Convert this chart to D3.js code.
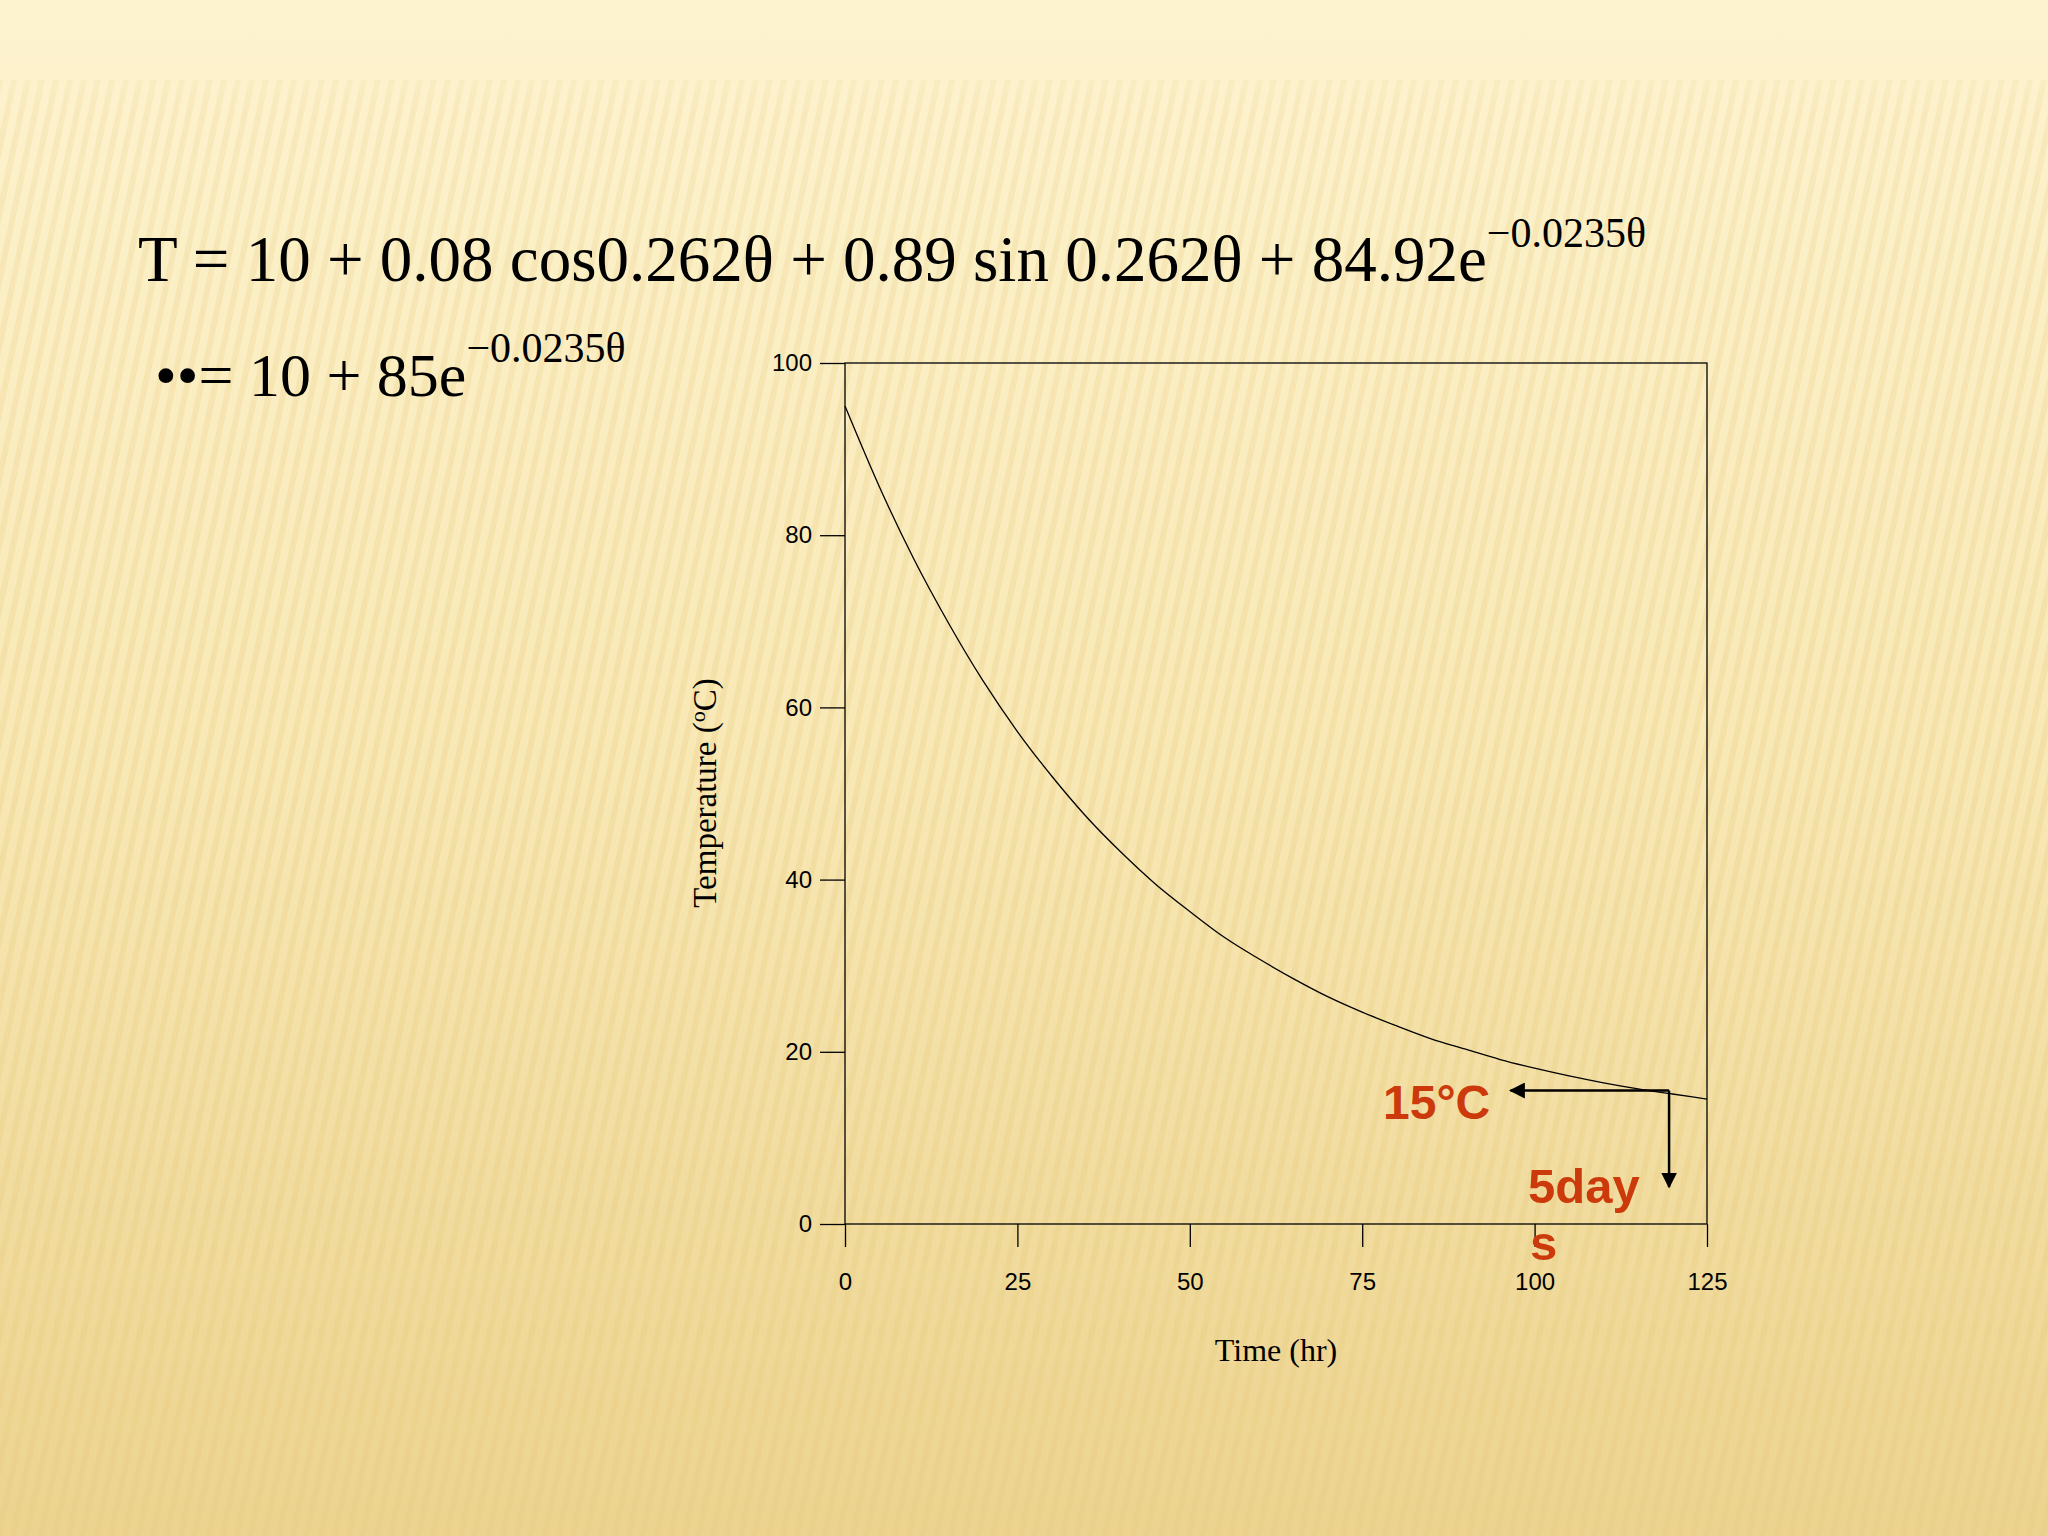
<!DOCTYPE html><html><head><meta charset="utf-8">
<script src="https://cdn.jsdelivr.net/npm/d3@7"></script>
<style>body{margin:0;}svg{display:block}</style></head><body>
<svg id="c" width="2048" height="1536"></svg>
<script>
const timeHr = [0,5,10,15,20,25,30,35,40,45,50,55,60,65,70,75,80,85,90,95,100,105,110,115,120,125];
const tempC  = [95,85.6,77.2,69.8,63.1,57.2,52.0,47.3,43.2,39.5,36.3,33.3,30.8,28.5,26.4,24.6,23.0,21.5,20.3,19.1,18.1,17.2,16.4,15.7,15.1,14.5];
const xTicks = [0,25,50,75,100,125];
const yTicks = [0,20,40,60,80,100];
const arrowStart = [119.5,15.5], arrowLeftEnd = [96.5,15.5], arrowDownEnd = [119.5,4.3];

const svg = d3.select("#c");
const defs = svg.append("defs");
const g1 = defs.append("linearGradient").attr("id","bg").attr("x1",0).attr("y1",0).attr("x2",0).attr("y2",1);
g1.append("stop").attr("offset","0").attr("stop-color","#fdf3cf");
g1.append("stop").attr("offset","0.5").attr("stop-color","#f8e8b4");
g1.append("stop").attr("offset","1").attr("stop-color","#ecd38f");
svg.append("rect").attr("width",2048).attr("height",1536).attr("fill","url(#bg)");
const pat = defs.append("pattern").attr("id","st").attr("width",14).attr("height",40).attr("patternUnits","userSpaceOnUse").attr("patternTransform","skewX(-12)");
pat.append("rect").attr("width",6).attr("height",40).attr("fill","#e6cc80").attr("opacity",0.35);
const mg = defs.append("linearGradient").attr("id","mg").attr("x1",0).attr("y1",0).attr("x2",0).attr("y2",1);
mg.append("stop").attr("offset","0").attr("stop-color","#fff").attr("stop-opacity",0);
mg.append("stop").attr("offset","0.08").attr("stop-color","#fff").attr("stop-opacity",0.6);
mg.append("stop").attr("offset","1").attr("stop-color","#fff").attr("stop-opacity",1);
defs.append("mask").attr("id","m").append("rect").attr("width",2048).attr("height",1536).attr("fill","url(#mg)");
svg.append("rect").attr("y",80).attr("width",2048).attr("height",1456).attr("fill","url(#st)").attr("mask","url(#m)");

const x = d3.scaleLinear().domain([0,125]).range([845,1707]);
const y = d3.scaleLinear().domain([0,100]).range([1224,363]);

svg.append("rect").attr("x",845).attr("y",363).attr("width",862).attr("height",861).attr("fill","none").attr("stroke","#000").attr("stroke-width",1.3);
const xa = svg.append("g").attr("transform","translate(0,1224)").call(d3.axisBottom(x).tickValues(xTicks).tickSize(23).tickPadding(26));
const ya = svg.append("g").attr("transform","translate(845,0)").call(d3.axisLeft(y).tickValues(yTicks).tickSize(25).tickPadding(8));
[xa,ya].forEach(a=>{a.selectAll("text").attr("font-family","Liberation Sans, Arial").attr("font-size",24).attr("fill","#000");
 a.selectAll("line,path").attr("stroke","#000").attr("stroke-width",1.3);a.select(".domain").attr("d",null);});

svg.append("path").datum(timeHr.map((t,i)=>[t,tempC[i]])).attr("fill","none").attr("stroke","#000").attr("stroke-width",1.3)
  .attr("d",d3.line().x(d=>x(d[0])).y(d=>y(d[1])).curve(d3.curveMonotoneX));

defs.append("marker").attr("id","ah").attr("viewBox","0 0 10 10").attr("refX",9).attr("refY",5).attr("markerWidth",16).attr("markerHeight",16).attr("orient","auto").attr("markerUnits","userSpaceOnUse")
 .append("path").attr("d","M0,0L10,5L0,10z").attr("fill","#000");
svg.append("line").attr("x1",x(arrowStart[0])).attr("y1",y(arrowStart[1])).attr("x2",x(arrowLeftEnd[0])).attr("y2",y(arrowLeftEnd[1])).attr("stroke","#000").attr("stroke-width",2.5).attr("marker-end","url(#ah)");
svg.append("line").attr("x1",x(arrowStart[0])).attr("y1",y(arrowStart[1])).attr("x2",x(arrowDownEnd[0])).attr("y2",y(arrowDownEnd[1])).attr("stroke","#000").attr("stroke-width",2.5).attr("marker-end","url(#ah)");

const red="#cc3a0c";
svg.append("text").attr("x",1383).attr("y",1119).attr("font-family","Liberation Sans, Arial").attr("font-weight","bold").attr("font-size",48).attr("fill",red).text("15°C");
svg.append("text").attr("x",1528).attr("y",1203).attr("font-family","Liberation Sans, Arial").attr("font-weight","bold").attr("font-size",49).attr("fill",red).text("5day");
svg.append("text").attr("x",1530).attr("y",1260).attr("font-family","Liberation Sans, Arial").attr("font-weight","bold").attr("font-size",49).attr("fill",red).text("s");

svg.append("text").attr("x",1276).attr("y",1361).attr("text-anchor","middle").attr("font-family","Liberation Serif, Times New Roman").attr("font-size",32).text("Time (hr)");
const yt = svg.append("text").attr("transform","translate(716,793) rotate(-90)").attr("text-anchor","middle").attr("font-family","Liberation Serif, Times New Roman").attr("font-size",33);
yt.append("tspan").text("Temperature (");
yt.append("tspan").attr("font-size",22).attr("dy",-11).text("o");
yt.append("tspan").attr("dy",11).text("C)");

const eq = svg.append("text").attr("x",138).attr("y",281).attr("font-family","Liberation Serif, Times New Roman").attr("font-size",65);
eq.append("tspan").text("T = 10 + 0.08 cos0.262θ + 0.89 sin 0.262θ + 84.92e");
eq.append("tspan").attr("font-size",42).attr("dy",-34).text("−0.0235θ");
const eq2 = svg.append("text").attr("x",155).attr("y",396).attr("font-family","Liberation Serif, Times New Roman").attr("font-size",62);
eq2.append("tspan").text("••= 10 + 85e");
eq2.append("tspan").attr("font-size",42).attr("dy",-34).text("−0.0235θ");
</script></body></html>
